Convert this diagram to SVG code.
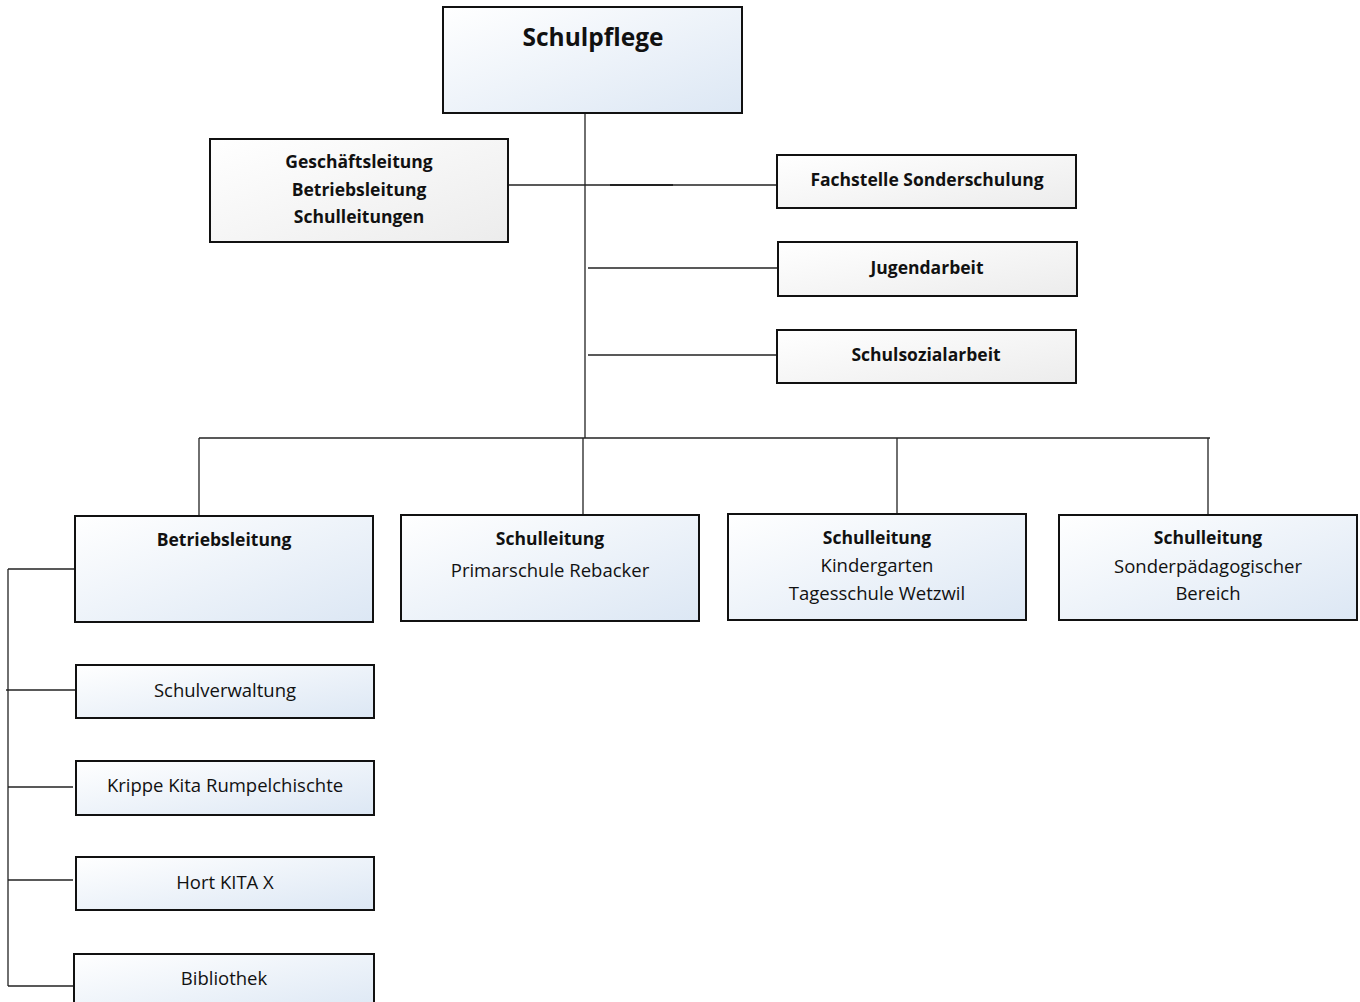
<svg xmlns="http://www.w3.org/2000/svg" width="1360" height="1002" viewBox="0 0 1360 1002">
<defs>
<linearGradient id="blue" x1="0" y1="0" x2="1" y2="1">
<stop offset="0" stop-color="#ffffff"/>
<stop offset="1" stop-color="#dce7f4"/>
</linearGradient>
<linearGradient id="gray" x1="0" y1="0" x2="1" y2="1">
<stop offset="0" stop-color="#ffffff"/>
<stop offset="1" stop-color="#ececec"/>
</linearGradient>
</defs>
<style>
.b{fill:url(#blue);stroke:#111;stroke-width:2}
.g{fill:url(#gray);stroke:#111;stroke-width:2}
text{font-family:"Open Sans","Liberation Sans",sans-serif;font-size:18.5px;fill:#111;text-anchor:middle}
.bd{font-weight:bold;font-size:17.5px}
.c line{stroke:#222;stroke-width:1.3}
</style>
<rect width="1360" height="1002" fill="#fff"/>
<g class="c" id="connectors">
<line x1="585" y1="113" x2="585" y2="438"/>
<line x1="508" y1="185" x2="777" y2="185"/>
<line x1="610" y1="185" x2="673" y2="185" style="stroke-width:2"/>
<line x1="588" y1="268" x2="778" y2="268"/>
<line x1="588" y1="355" x2="777" y2="355"/>
<line x1="199" y1="438" x2="1210" y2="438"/>
<line x1="199" y1="438" x2="199" y2="516"/>
<line x1="583" y1="438" x2="583" y2="515"/>
<line x1="897" y1="438" x2="897" y2="514"/>
<line x1="1208" y1="438" x2="1208" y2="515"/>
<line x1="8" y1="569" x2="8" y2="986"/>
<line x1="8" y1="569" x2="75" y2="569"/>
<line x1="6" y1="690" x2="76" y2="690"/>
<line x1="8" y1="787" x2="73" y2="787"/>
<line x1="8" y1="880" x2="73" y2="880"/>
<line x1="8" y1="986" x2="73" y2="986"/>
</g>
<g id="schulpflege"><rect class="b" x="443" y="7" width="299" height="106"/><text class="bd" x="593" y="46" style="font-size:24.5px">Schulpflege</text></g>
<g id="geschaeftsleitung"><rect class="g" x="210" y="139" width="298" height="103"/>
<text class="bd" x="359" y="168">Geschäftsleitung</text><text class="bd" x="359" y="196">Betriebsleitung</text><text class="bd" x="359" y="223">Schulleitungen</text></g>
<g id="fachstelle"><rect class="g" x="777" y="155" width="299" height="53"/><text class="bd" x="927" y="186">Fachstelle Sonderschulung</text></g>
<g id="jugendarbeit"><rect class="g" x="778" y="242" width="299" height="54"/><text class="bd" x="927" y="274">Jugendarbeit</text></g>
<g id="schulsozialarbeit"><rect class="g" x="777" y="330" width="299" height="53"/><text class="bd" x="926" y="361">Schulsozialarbeit</text></g>
<g id="betriebsleitung"><rect class="b" x="75" y="516" width="298" height="106"/><text class="bd" x="224" y="546">Betriebsleitung</text></g>
<g id="sl-primar"><rect class="b" x="401" y="515" width="298" height="106"/><text class="bd" x="550" y="545">Schulleitung</text><text x="550" y="577">Primarschule Rebacker</text></g>
<g id="sl-kindergarten"><rect class="b" x="728" y="514" width="298" height="106"/><text class="bd" x="877" y="544">Schulleitung</text><text x="877" y="572">Kindergarten</text><text x="877" y="600">Tagesschule Wetzwil</text></g>
<g id="sl-sonder"><rect class="b" x="1059" y="515" width="298" height="105"/><text class="bd" x="1208" y="544">Schulleitung</text><text x="1208" y="573">Sonderpädagogischer</text><text x="1208" y="600">Bereich</text></g>
<g id="schulverwaltung"><rect class="b" x="76" y="665" width="298" height="53"/><text x="225" y="697">Schulverwaltung</text></g>
<g id="krippe"><rect class="b" x="76" y="761" width="298" height="54"/><text x="225" y="792">Krippe Kita Rumpelchischte</text></g>
<g id="hort"><rect class="b" x="76" y="857" width="298" height="53"/><text x="225" y="889">Hort KITA X</text></g>
<g id="bibliothek"><rect class="b" x="74" y="954" width="300" height="60"/><text x="224" y="985">Bibliothek</text></g>
</svg>
